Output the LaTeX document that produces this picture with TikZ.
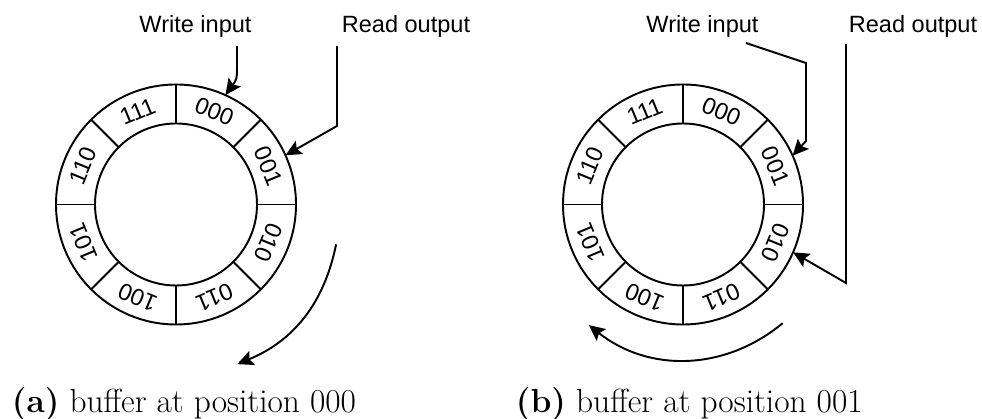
\documentclass[tikz,border=0pt]{standalone}
\usepackage{fontspec}
\newfontfamily\labelfont{Liberation Sans}
\usetikzlibrary{arrows.meta}

\begin{document}
\begin{tikzpicture}[>={Stealth[length=3.2mm, width=3mm, inset=0.6mm]}, line width=1.1pt,
  lbl/.style={font=\labelfont\fontsize{13.4}{16}\selectfont, inner sep=0pt},
  subcap/.style={font=\fontsize{19}{22}\selectfont, inner sep=0pt, anchor=base west}]

\useasboundingbox (0,0) rectangle (19.64,8.38);

% ---- Rings: 8 slots, 000 at the top right, counting clockwise ------------
\foreach \cx/\p in {3.52/a, 13.66/b}{
  \begin{scope}[shift={(\cx,4.29)}]
    \coordinate (c\p) at (0,0);
    \draw (0,0) circle (2.4) (0,0) circle (1.62);
    \foreach \a in {0,45,...,315}{\draw (\a:1.62) -- (\a:2.4);}
    \foreach \a/\t in {67.5/000, 22.5/001, -22.5/010, -67.5/011,
                       -112.5/100, -157.5/101, 157.5/110, 112.5/111}
      {\node[lbl, rotate=\a-90] (\p\t) at (\a:2.01) {\t};}
  \end{scope}
}

% ---- (a) write at 000, read at 001 --------------------------------------
\node[lbl, anchor=base] (wia) at (3.91,7.72) {Write input};
\node[lbl, anchor=base] (roa) at (8.12,7.72) {Read output};
\coordinate (wsa) at (4.74,7.46);
\coordinate (rsa) at (6.74,7.46);
\coordinate (wta) at ([shift={(65.7:2.4)}]ca);
\coordinate (rta) at ([shift={(24.2:2.4)}]ca);
\draw[->] (wsa) -- (4.74,7.1) .. controls (4.74,6.8) .. (wta);
\draw[->] (rsa) -- (6.74,5.86) -- (rta);

\coordinate (ma0) at ([shift={(-14:3.3)}]ca);
\coordinate (ma1) at ([shift={(-69:3.42)}]ca);
\draw[->] (ma0) to[bend left=28] (ma1);

\node[subcap] (capa) at (0.22,0.12) {\textbf{(a)} buffer at position 000};

% ---- (b) write at 001, read at 010 --------------------------------------
\node[lbl, anchor=base] (wib) at (14.05,7.72) {Write input};
\node[lbl, anchor=base] (rob) at (18.26,7.72) {Read output};
\coordinate (wsb) at (14.92,7.52);
\coordinate (rsb) at (16.92,7.50);
\coordinate (wtb) at ([shift={(24:2.4)}]cb);
\coordinate (rtb) at ([shift={(-23.5:2.4)}]cb);
\draw[->] (wsb) -- (16.12,7.12) -- (16.12,5.56) -- (wtb);
\draw[->] (rsb) -- (16.92,2.72) -- (rtb);

\coordinate (mb0) at ([shift={(-50:3.1)}]cb);
\coordinate (mb1) at ([shift={(-128:3.06)}]cb);
\draw[->] (mb0) to[bend left=39] (mb1);

\node[subcap] (capb) at (10.3,0.12) {\textbf{(b)} buffer at position 001};

\end{tikzpicture}
\end{document}
